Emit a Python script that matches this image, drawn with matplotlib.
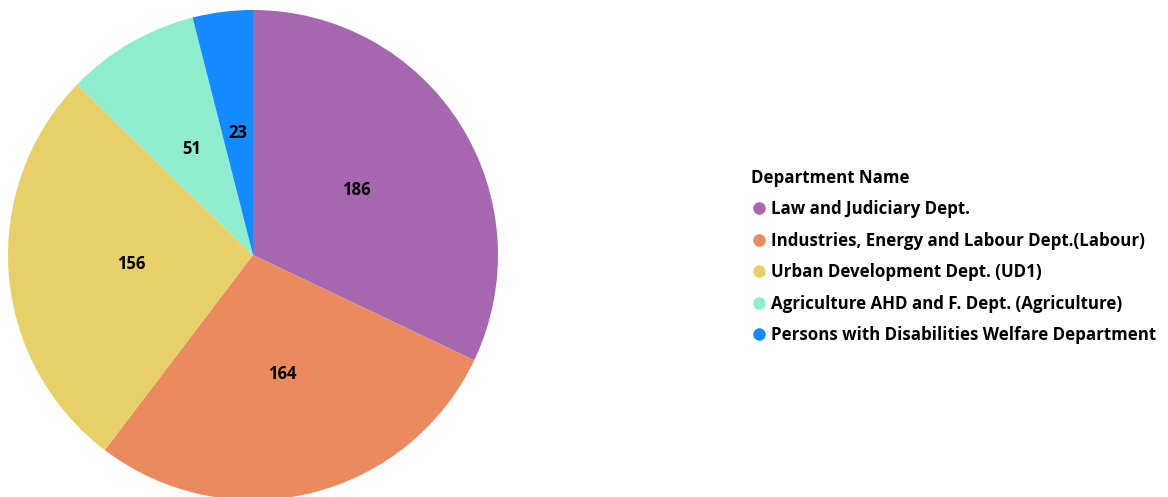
import matplotlib
matplotlib.use("Agg")
import matplotlib.pyplot as plt
from matplotlib.lines import Line2D

departments = [
    "Law and Judiciary Dept.",
    "Industries, Energy and Labour Dept.(Labour)",
    "Urban Development Dept. (UD1)",
    "Agriculture AHD and F. Dept. (Agriculture)",
    "Persons with Disabilities Welfare Department",
]
counts = [186, 164, 156, 51, 23]
colors = ["#A667B0", "#EB8A5F", "#E7D06A", "#8FEDCF", "#148BFF"]

plt.rcParams['font.family'] = ['Open Sans', 'DejaVu Sans']

W, H = 1168, 497
fig = plt.figure(figsize=(W / 100, H / 100), dpi=100)
cx, cy, r = 253, 255, 245
ax = fig.add_axes([(cx - r) / W, (H - cy - r) / H, 2 * r / W, 2 * r / H])
wedges, texts = ax.pie(counts, colors=colors, startangle=90, counterclock=False,
                       labels=[str(c) for c in counts], labeldistance=0.5,
                       wedgeprops=dict(linewidth=0),
                       textprops=dict(fontsize=12, fontweight='bold', color='black'))
for t in texts:
    t.set_horizontalalignment('center')
    t.set_verticalalignment('center')
ax.set_xlim(-1, 1)
ax.set_ylim(-1, 1)
ax.set_aspect('equal')

handles = [Line2D([0], [0], marker='o', linestyle='', markersize=9,
                  markerfacecolor=c, markeredgewidth=0) for c in colors]
leg = fig.legend(handles, departments, loc='upper left',
                 bbox_to_anchor=(737 / W, 1 - 155 / H), frameon=False,
                 title="Department Name", alignment='left',
                 prop=dict(size=12.2, weight='bold'),
                 title_fontproperties=dict(size=12.2, weight='bold'),
                 handletextpad=0.2, handlelength=1.0, labelspacing=0.8,
                 borderpad=0.3)

fig.savefig("out.png", dpi=100)
